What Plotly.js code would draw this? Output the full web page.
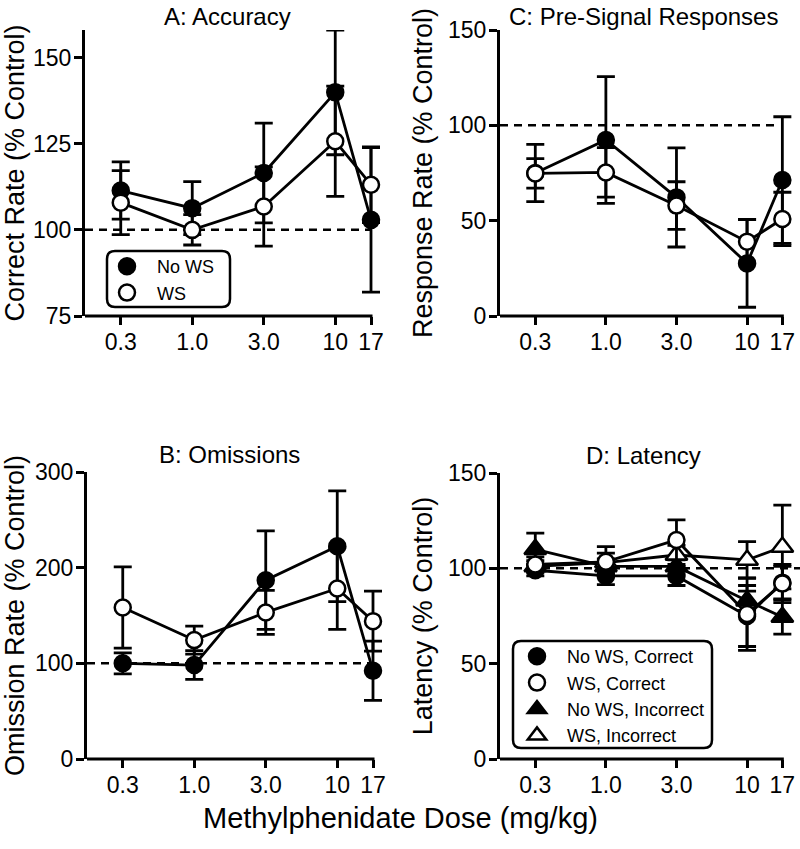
<!DOCTYPE html>
<html>
<head>
<meta charset="utf-8">
<script src="https://cdn.plot.ly/plotly-3.0.1.min.js"></script>
<style>html,body{margin:0;padding:0;background:#fff;}#chart{width:800px;height:849px;}</style>
</head>
<body>
<div id="chart"></div>
<script>
// ---- data ----
const doses = ['0.3', '1.0', '3.0', '10', '17'];

// A: Accuracy (Correct Rate, % Control)
const accNoWS = [111.4, 106.3, 116.5, 139.9, 102.9];
const accNoWSErr = [8.3, 7.7, 14.5, 18.1, 21.0];
const accWS = [107.9, 100.0, 106.8, 125.7, 113.1];
const accWSErr = [9.3, 4.4, 11.5, 16.0, 11.0];

// C: Pre-Signal Responses (Response Rate, % Control)
const preNoWS = [75.0, 92.3, 62.2, 27.6, 71.3];
const preNoWSErr = [15.0, 33.2, 26.0, 23.0, 33.2];
const preWS = [74.8, 75.3, 57.9, 39.0, 50.9];
const preWSErr = [7.7, 13.0, 12.5, 11.7, 14.0];

// B: Omissions (Omission Rate, % Control)
const omiNoWS = [100.0, 98.2, 186.9, 222.4, 92.2];
const omiNoWSErr = [11.0, 15.0, 51.5, 57.8, 31.0];
const omiWS = [158.4, 124.3, 153.2, 178.2, 144.1];
const omiWSErr = [42.4, 14.6, 23.0, 42.8, 31.3];

// D: Latency (% Control)
const latNoWSCorrect = [99.0, 96.0, 96.0, 75.0, 92.5];
const latNoWSCorrectErr = [3.0, 4.5, 5.0, 16.0, 8.5];
const latWSCorrect = [102.0, 103.4, 114.9, 76.0, 92.0];
const latWSCorrectErr = [4.0, 8.0, 10.5, 19.0, 10.0];
const latNoWSIncorrect = [110.0, 101.0, 101.0, 83.0, 74.5];
const latNoWSIncorrectErr = [8.5, 4.0, 4.0, 5.0, 9.0];
const latWSIncorrect = [101.0, 103.0, 107.0, 104.4, 111.2];
const latWSIncorrectErr = [3.0, 5.0, 5.0, 9.6, 22.0];

// axis placement of the dose categories (17 sits half a step after 10)
const dosePos = [1, 2, 3, 4, 4.5];

// ---- helpers ----
const FONT = '"Liberation Sans", Arial, Helvetica, sans-serif';
const W = 800, H = 849;
const STEP = 71.5;            // px per dose step
const XMAX = 4.75;            // a little room after the last dose so caps are not clipped

function series(xa, ya, y, err, symbol, fill, name, legend, rank) {
  const lineTr = {
    type: 'scatter', mode: 'lines', x: dosePos, y: y, xaxis: xa, yaxis: ya,
    showlegend: false, hoverinfo: 'skip', cliponaxis: false,
    line: {color: 'black', width: 2.8}
  };
  const markTr = {
    type: 'scatter', mode: 'markers', x: dosePos, y: y, xaxis: xa, yaxis: ya, name: name,
    showlegend: !!legend, legend: legend || 'legend', legendrank: rank || 1000,
    cliponaxis: false,
    marker: {symbol: symbol, size: symbol.indexOf('triangle') === 0 ? 19 : 16, color: fill,
             line: {color: 'black', width: 2.5}},
    error_y: {type: 'data', array: err, visible: true, color: 'black', thickness: 2.8, width: 9}
  };
  return [lineTr, markTr];
}

const data = [].concat(
  series('x', 'y', accNoWS, accNoWSErr, 'circle', 'black', 'No WS', 'legend', 1),
  series('x', 'y', accWS, accWSErr, 'circle', 'white', 'WS', 'legend', 2),
  series('x2', 'y2', preNoWS, preNoWSErr, 'circle', 'black', 'No WS'),
  series('x2', 'y2', preWS, preWSErr, 'circle', 'white', 'WS'),
  series('x3', 'y3', omiNoWS, omiNoWSErr, 'circle', 'black', 'No WS'),
  series('x3', 'y3', omiWS, omiWSErr, 'circle', 'white', 'WS'),
  series('x4', 'y4', latNoWSIncorrect, latNoWSIncorrectErr, 'triangle-up', 'black', 'No WS, Incorrect', 'legend2', 3),
  series('x4', 'y4', latWSIncorrect, latWSIncorrectErr, 'triangle-up', 'white', 'WS, Incorrect', 'legend2', 4),
  series('x4', 'y4', latNoWSCorrect, latNoWSCorrectErr, 'circle', 'black', 'No WS, Correct', 'legend2', 1),
  series('x4', 'y4', latWSCorrect, latWSCorrectErr, 'circle', 'white', 'WS, Correct', 'legend2', 2)
);

function px(x) { return x / W; }
function py(y) { return 1 - y / H; }

function xax(left, anchor) {
  const right = left + STEP * (XMAX - 0.5);
  return {
    domain: [px(left), px(right)], anchor: anchor, range: [0.5, XMAX],
    tickmode: 'array', tickvals: dosePos, ticktext: doses,
    showline: false,
    ticks: 'outside', ticklen: 8, tickwidth: 3, tickcolor: 'black', ticklabelstandoff: -3,
    showgrid: false, zeroline: false, fixedrange: true,
    tickfont: {family: FONT, size: 23, color: 'black'}
  };
}
function yax(domain, anchor, range, tickvals, title) {
  return {
    domain: domain, anchor: anchor, range: range,
    tickmode: 'array', tickvals: tickvals,
    showline: true, linewidth: 3, linecolor: 'black',
    ticks: 'outside', ticklen: 8, tickwidth: 3, tickcolor: 'black', ticklabelstandoff: -2,
    showgrid: false, zeroline: false, fixedrange: true,
    tickfont: {family: FONT, size: 23, color: 'black'},
    title: {text: title, font: {family: FONT, size: 27, color: 'black'}, standoff: 8}
  };
}

// x axis baseline: from the y axis to the last dose tick
function baseline(xref, yref) {
  return {type: 'line', xref: xref, x0: 0.5 - 1.5 / STEP, x1: dosePos[dosePos.length - 1] + 1.5 / STEP,
          yref: yref + ' domain', y0: 0, y1: 0, layer: 'above',
          line: {color: 'black', width: 3}};
}
function dashed(xref, yref, xend) {
  return {type: 'line', xref: xref, x0: 0.5, x1: xend, yref: yref, y0: 100, y1: 100,
          layer: 'below', line: {color: 'black', width: 2.5, dash: '8px,6px'}};
}

function roundRect(x0, y0, x1, y1, r) {
  const X = v => (v / W).toFixed(5), Y = v => (1 - v / H).toFixed(5);
  return 'M' + X(x0 + r) + ',' + Y(y0) +
    ' L' + X(x1 - r) + ',' + Y(y0) + ' Q' + X(x1) + ',' + Y(y0) + ' ' + X(x1) + ',' + Y(y0 + r) +
    ' L' + X(x1) + ',' + Y(y1 - r) + ' Q' + X(x1) + ',' + Y(y1) + ' ' + X(x1 - r) + ',' + Y(y1) +
    ' L' + X(x0 + r) + ',' + Y(y1) + ' Q' + X(x0) + ',' + Y(y1) + ' ' + X(x0) + ',' + Y(y1 - r) +
    ' L' + X(x0) + ',' + Y(y0 + r) + ' Q' + X(x0) + ',' + Y(y0) + ' ' + X(x0 + r) + ',' + Y(y0) + ' Z';
}

function panelTitle(text, xc, yc) {
  return {text: text, xref: 'paper', yref: 'paper', x: px(xc), y: py(yc),
          xanchor: 'center', yanchor: 'middle', showarrow: false,
          font: {family: FONT, size: 24, color: 'black'}};
}

const layout = {
  width: W, height: H,
  margin: {l: 0, r: 0, t: 0, b: 0},
  paper_bgcolor: 'white', plot_bgcolor: 'white',
  font: {family: FONT, color: 'black'},
  xaxis: xax(85, 'y'),
  yaxis: yax([py(316), py(30)], 'x', [75, 158], [75, 100, 125, 150], 'Correct Rate (% Control)'),
  xaxis2: xax(500, 'y2'),
  yaxis2: yax([py(316), py(30)], 'x2', [0, 150], [0, 50, 100, 150], 'Response Rate (% Control)'),
  xaxis3: xax(87, 'y3'),
  yaxis3: yax([py(759), py(472)], 'x3', [0, 300], [0, 100, 200, 300], 'Omission Rate (% Control)'),
  xaxis4: xax(500, 'y4'),
  yaxis4: yax([py(759), py(473)], 'x4', [0, 150], [0, 50, 100, 150], 'Latency (% Control)'),
  shapes: [
    baseline('x', 'y'), baseline('x2', 'y2'), baseline('x3', 'y3'), baseline('x4', 'y4'),
    dashed('x', 'y', 4.5), dashed('x2', 'y2', 4.4), dashed('x3', 'y3', 4.5), dashed('x4', 'y4', XMAX),
    {type: 'path', xref: 'paper', yref: 'paper', path: roundRect(107, 251, 230, 307, 8),
     fillcolor: 'white', layer: 'below', line: {color: 'black', width: 2.5}},
    {type: 'path', xref: 'paper', yref: 'paper', path: roundRect(513, 641, 712, 748, 8),
     fillcolor: 'white', layer: 'below', line: {color: 'black', width: 2.5}}
  ],
  legend: {
    x: px(97), y: py(248), xanchor: 'left', yanchor: 'top',
    bgcolor: 'rgba(0,0,0,0)', borderwidth: 0, itemwidth: 50,
    font: {family: FONT, size: 18, color: 'black'}, tracegroupgap: 0
  },
  legend2: {
    x: px(507), y: py(638), xanchor: 'left', yanchor: 'top',
    bgcolor: 'rgba(0,0,0,0)', borderwidth: 0, itemwidth: 50,
    font: {family: FONT, size: 18, color: 'black'}, tracegroupgap: 0
  },
  annotations: [
    panelTitle('A: Accuracy', 228, 16),
    panelTitle('C: Pre-Signal Responses', 643, 16),
    panelTitle('B: Omissions', 229, 454),
    panelTitle('D: Latency', 643, 455),
    {text: 'Methylphenidate Dose (mg/kg)', xref: 'paper', yref: 'paper', x: 0.5, y: py(818),
     xanchor: 'center', yanchor: 'middle', showarrow: false,
     font: {family: FONT, size: 29, color: 'black'}}
  ]
};

Plotly.newPlot('chart', data, layout, {staticPlot: true, displayModeBar: false});
</script>
</body>
</html>
